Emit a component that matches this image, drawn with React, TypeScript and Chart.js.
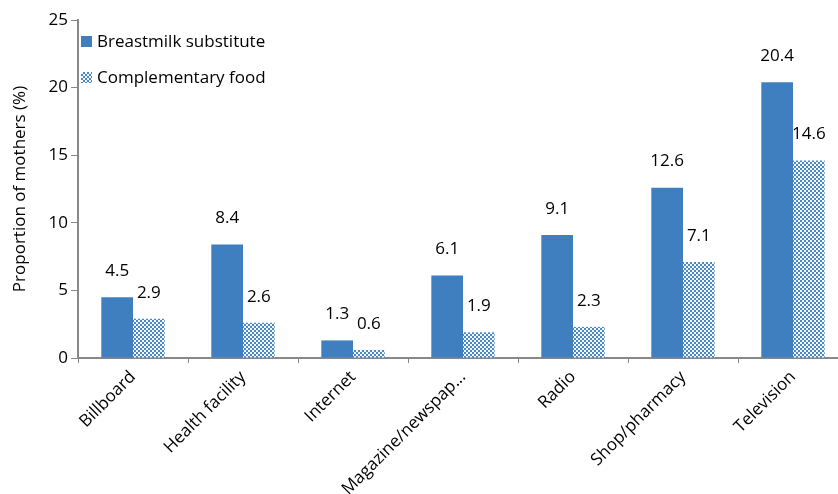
import React, { useEffect, useRef } from 'react';
import { Chart, registerables } from 'chart.js';
Chart.register(...registerables);

const categories = ['Billboard', 'Health facility', 'Internet', 'Magazine/newspap...', 'Radio', 'Shop/pharmacy', 'Television'];
const breastmilkSubstitute = [4.5, 8.4, 1.3, 6.1, 9.1, 12.6, 20.4];
const complementaryFood = [2.9, 2.6, 0.6, 1.9, 2.3, 7.1, 14.6];
const seriesNames = ['Breastmilk substitute', 'Complementary food'];
const yTickValues = [0, 5, 10, 15, 20, 25];
const yTitle = 'Proportion of mothers (%)';

const FONT = "'Open Sans', sans-serif";
const BLUE = '#3F7FBF';
const AXIS = '#888888';

function makePattern(): CanvasPattern | string {
  const c = document.createElement('canvas');
  c.width = 4;
  c.height = 4;
  const g = c.getContext('2d');
  if (!g) return BLUE;
  g.fillStyle = '#f4f8fc';
  g.fillRect(0, 0, 4, 4);
  g.fillStyle = '#4a88c8';
  g.fillRect(0, 0, 2, 2);
  g.fillRect(2, 2, 2, 2);
  const p = g.createPattern(c, 'repeat');
  return p || BLUE;
}

const valueLabels = {
  id: 'valueLabels',
  afterDatasetsDraw(chart: any) {
    const ctx = chart.ctx;
    ctx.save();
    ctx.font = `17px ${FONT}`;
    ctx.fillStyle = '#000';
    ctx.textAlign = 'center';
    ctx.textBaseline = 'middle';
    chart.data.datasets.forEach((ds: any, di: number) => {
      const meta = chart.getDatasetMeta(di);
      meta.data.forEach((el: any, i: number) => {
        const v = ds.data[i];
        ctx.fillText(Number(v).toFixed(1), el.x, el.y - 26);
      });
    });
    ctx.restore();
  },
};

export default function App() {
  const ref = useRef<HTMLCanvasElement>(null);
  useEffect(() => {
    if (!ref.current) return;
    const pattern = makePattern();
    const chart = new Chart(ref.current, {
      type: 'bar',
      data: {
        labels: categories,
        datasets: [
          {
            label: seriesNames[0],
            data: breastmilkSubstitute,
            backgroundColor: BLUE,
            borderWidth: 0,
            categoryPercentage: 0.576,
            barPercentage: 1,
          },
          {
            label: seriesNames[1],
            data: complementaryFood,
            backgroundColor: pattern as any,
            borderWidth: 0,
            categoryPercentage: 0.576,
            barPercentage: 1,
          },
        ],
      },
      options: {
        responsive: false,
        animation: false,
        layout: { padding: { top: 20, right: 0, left: 0, bottom: 0 } },
        plugins: {
          legend: { display: false },
          tooltip: { enabled: false },
        },
        scales: {
          x: {
            offset: true,
            grid: {
              offset: true,
              drawOnChartArea: false,
              drawTicks: true,
              tickLength: 5,
              color: AXIS,
              lineWidth: 1,
            },
            border: { display: true, color: AXIS, width: 2 },
            ticks: {
              font: { family: FONT, size: 17 },
              color: '#000',
              minRotation: 45,
              maxRotation: 45,
              autoSkip: false,
              padding: 4,
            },
            afterFit: (s: any) => {
              s.height = 136;
            },
          },
          y: {
            min: 0,
            max: 25,
            afterBuildTicks: (s: any) => {
              s.ticks = yTickValues.map((v) => ({ value: v }));
            },
            grid: {
              drawOnChartArea: false,
              drawTicks: true,
              tickLength: 7,
              color: AXIS,
              lineWidth: 1,
            },
            border: { display: true, color: AXIS, width: 2 },
            ticks: {
              font: { family: FONT, size: 17 },
              color: '#000',
              padding: 3,
            },
            title: {
              display: true,
              text: yTitle,
              font: { family: FONT, size: 17 },
              color: '#000',
              padding: { top: 10, bottom: 0 },
            },
            afterFit: (s: any) => {
              s.width = 78;
            },
          },
        },
      },
      plugins: [valueLabels],
    });
    return () => chart.destroy();
  }, []);

  const legendRow = (label: string, swatch: React.CSSProperties) => (
    <div style={{ display: 'flex', alignItems: 'center', height: 36 }}>
      <div style={{ width: 11, height: 11, marginRight: 5, ...swatch }} />
      <span>{label}</span>
    </div>
  );

  return (
    <div
      style={{
        position: 'fixed',
        left: 0,
        top: 0,
        width: 838,
        height: 494,
        overflow: 'hidden',
        background: '#fff',
      }}
    >
      <canvas ref={ref} width={848} height={494} style={{ display: 'block' }} />
      <div
        style={{
          position: 'absolute',
          left: 81,
          top: 23,
          fontFamily: FONT,
          fontSize: 17,
          color: '#000',
          lineHeight: '20px',
        }}
      >
        {legendRow(seriesNames[0], { background: BLUE })}
        {legendRow(seriesNames[1], {
          backgroundImage:
            'repeating-conic-gradient(#4a88c8 0% 25%, #f4f8fc 0% 50%)',
          backgroundSize: '4px 4px',
        })}
      </div>
    </div>
  );
}
